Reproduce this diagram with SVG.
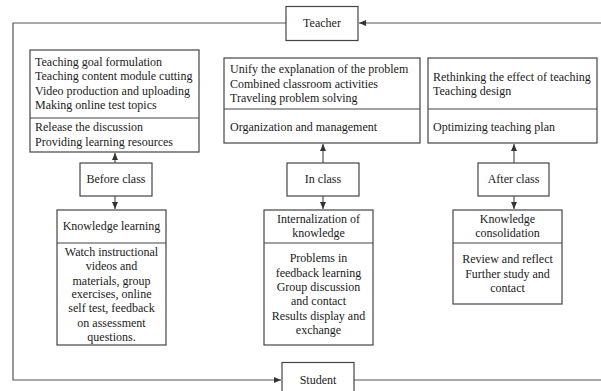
<svg xmlns="http://www.w3.org/2000/svg" width="601" height="391" viewBox="0 0 601 391">
<defs>
<marker id="arr" markerWidth="8" markerHeight="6" refX="7" refY="3" orient="auto" markerUnits="userSpaceOnUse">
<path d="M0,0 L7,3 L0,6 Z" fill="#333"/>
</marker>
<style>
.box{fill:#fff;stroke:#444;stroke-width:1.2}
.div{stroke:#444;stroke-width:1.2}
.conn{fill:none;stroke:#555;stroke-width:1.2}
text{font-family:"Liberation Serif","Times New Roman",serif;font-size:12px;fill:#1a1a1a}
.c{text-anchor:middle}
</style>
</defs>
<rect width="601" height="391" fill="#fff"/>
<g id="connectors">
<path class="conn" d="M601,23 H359" marker-end="url(#arr)"/>
<path class="conn" d="M286,23 H13 V380 H281" marker-end="url(#arr)"/>
<path class="conn" d="M354,380 H601"/>
<path class="conn" d="M115,163 V153" marker-end="url(#arr)"/>
<path class="conn" d="M115,196 V209" marker-end="url(#arr)"/>
<path class="conn" d="M323,163 V144" marker-end="url(#arr)"/>
<path class="conn" d="M323,196 V209" marker-end="url(#arr)"/>
<path class="conn" d="M514,163 V144" marker-end="url(#arr)"/>
<path class="conn" d="M514,196 V209" marker-end="url(#arr)"/>
</g>
<g id="teacher">
<rect class="box" x="286" y="6.5" width="72" height="34"/>
<text class="c" x="322" y="27">Teacher</text>
</g>
<g id="student">
<rect class="box" x="282" y="362.5" width="72" height="36"/>
<text class="c" x="318" y="383.5">Student</text>
</g>
<g id="before-tasks">
<rect class="box" x="30" y="50" width="169" height="102"/>
<line class="div" x1="30" y1="118" x2="199" y2="118"/>
<text x="35" y="66">Teaching goal formulation</text>
<text x="35" y="80">Teaching content module cutting</text>
<text x="35" y="94.5">Video production and uploading</text>
<text x="35" y="108.5">Making online test topics</text>
<text x="35" y="131">Release the discussion</text>
<text x="35" y="145.5">Providing learning resources</text>
</g>
<g id="before-class">
<rect class="box" x="80" y="163" width="72" height="33"/>
<text class="c" x="116" y="183">Before class</text>
</g>
<g id="knowledge-learning">
<rect class="box" x="57" y="210" width="109" height="135"/>
<line class="div" x1="57" y1="243" x2="166" y2="243"/>
<text class="c" x="111.5" y="230">Knowledge learning</text>
<text class="c" x="111.5" y="255.5">Watch instructional</text>
<text class="c" x="111.5" y="270">videos and</text>
<text class="c" x="111.5" y="284.5">materials, group</text>
<text class="c" x="111.5" y="298">exercises, online</text>
<text class="c" x="111.5" y="312">self test, feedback</text>
<text class="c" x="111.5" y="327">on assessment</text>
<text class="c" x="111.5" y="341">questions.</text>
</g>
<g id="in-tasks">
<rect class="box" x="224" y="58" width="196" height="85"/>
<line class="div" x1="224" y1="109" x2="420" y2="109"/>
<text x="230" y="73">Unify the explanation of the problem</text>
<text x="230" y="87.5">Combined classroom activities</text>
<text x="230" y="102">Traveling problem solving</text>
<text x="230" y="131">Organization and management</text>
</g>
<g id="in-class">
<rect class="box" x="287" y="163" width="72" height="33"/>
<text class="c" x="323" y="183">In class</text>
</g>
<g id="internalization">
<rect class="box" x="264" y="210" width="109" height="135"/>
<line class="div" x1="264" y1="243" x2="373" y2="243"/>
<text class="c" x="318.5" y="223">Internalization of</text>
<text class="c" x="318.5" y="237">knowledge</text>
<text class="c" x="318.5" y="262">Problems in</text>
<text class="c" x="318.5" y="276.5">feedback learning</text>
<text class="c" x="318.5" y="290.5">Group discussion</text>
<text class="c" x="318.5" y="304.5">and contact</text>
<text class="c" x="318.5" y="319.5">Results display and</text>
<text class="c" x="318.5" y="333.5">exchange</text>
</g>
<g id="after-tasks">
<rect class="box" x="428" y="58" width="169" height="85"/>
<line class="div" x1="428" y1="109" x2="597" y2="109"/>
<text x="433" y="81">Rethinking the effect of teaching</text>
<text x="433" y="95">Teaching design</text>
<text x="433" y="131">Optimizing teaching plan</text>
</g>
<g id="after-class">
<rect class="box" x="478" y="163" width="71" height="33"/>
<text class="c" x="513.5" y="183">After class</text>
</g>
<g id="consolidation">
<rect class="box" x="453" y="210" width="109" height="94"/>
<line class="div" x1="453" y1="243" x2="562" y2="243"/>
<text class="c" x="507.5" y="223">Knowledge</text>
<text class="c" x="507.5" y="237">consolidation</text>
<text class="c" x="507.5" y="263">Review and reflect</text>
<text class="c" x="507.5" y="277.5">Further study and</text>
<text class="c" x="507.5" y="291.5">contact</text>
</g>
</svg>
